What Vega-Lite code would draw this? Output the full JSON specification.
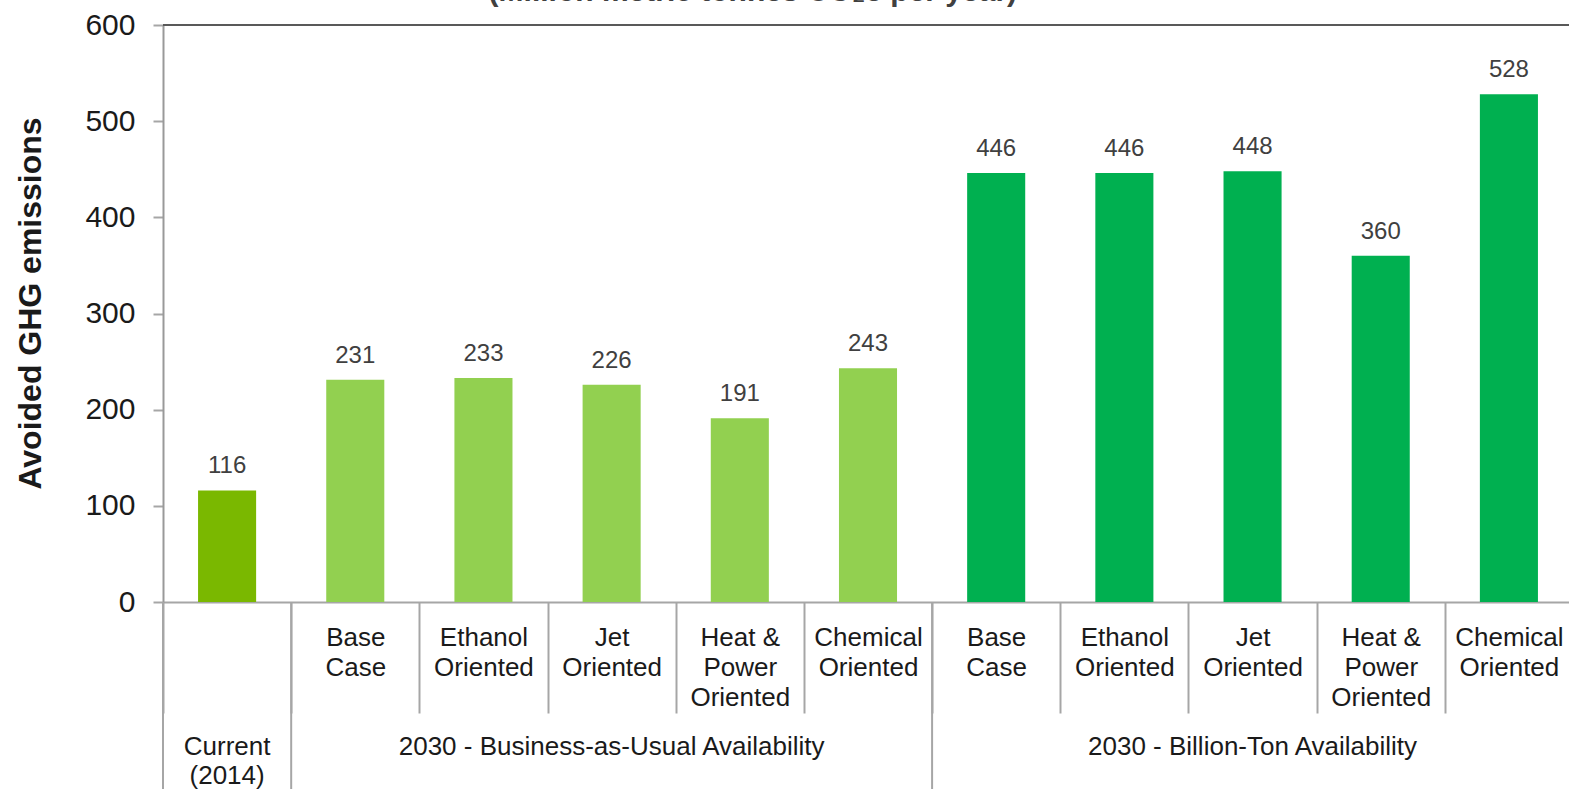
{
  "$schema": "https://vega.github.io/schema/vega-lite/v6.json",
  "autosize": {"type": "none"},
  "padding": {"left": 163, "top": 25, "right": 0, "bottom": 200},
  "width": 1410,
  "height": 577,
  "background": "white",
  "config": {"font": "Liberation Sans", "view": {"stroke": null}},
  "datasets": {
    "bars": [
      {"key": "CUR| ", "group": "Current", "value": 116},
      {"key": "BAU|Base|Case", "group": "Business-as-Usual", "value": 231},
      {"key": "BAU|Ethanol|Oriented", "group": "Business-as-Usual", "value": 233},
      {"key": "BAU|Jet|Oriented", "group": "Business-as-Usual", "value": 226},
      {"key": "BAU|Heat &|Power|Oriented", "group": "Business-as-Usual", "value": 191},
      {"key": "BAU|Chemical|Oriented", "group": "Business-as-Usual", "value": 243},
      {"key": "BT|Base|Case", "group": "Billion-Ton", "value": 446},
      {"key": "BT|Ethanol|Oriented", "group": "Billion-Ton", "value": 446},
      {"key": "BT|Jet|Oriented", "group": "Billion-Ton", "value": 448},
      {"key": "BT|Heat &|Power|Oriented", "group": "Billion-Ton", "value": 360},
      {"key": "BT|Chemical|Oriented", "group": "Billion-Ton", "value": 528}
    ],
    "groups": [
      {"key": "CUR| ", "text": "Current\n(2014)"},
      {"key": "BAU|Jet|Oriented", "text": "2030 - Business-as-Usual Availability"},
      {"key": "BT|Jet|Oriented", "text": "2030 - Billion-Ton Availability"}
    ],
    "separators": [
      {"key": "CUR| "},
      {"key": "BAU|Base|Case"},
      {"key": "BT|Base|Case"}
    ],
    "title": [
      {"key": "BAU|Heat &|Power|Oriented", "text": "(Million metric tonnes CO₂e per year)"}
    ]
  },
  "encoding": {
    "x": {
      "field": "key",
      "type": "nominal",
      "sort": null,
      "scale": {
        "type": "band",
        "domain": ["CUR| ", "BAU|Base|Case", "BAU|Ethanol|Oriented", "BAU|Jet|Oriented", "BAU|Heat &|Power|Oriented", "BAU|Chemical|Oriented", "BT|Base|Case", "BT|Ethanol|Oriented", "BT|Jet|Oriented", "BT|Heat &|Power|Oriented", "BT|Chemical|Oriented"],
        "paddingInner": 0,
        "paddingOuter": 0
      },
      "axis": {
        "title": null,
        "labelAngle": 0,
        "labelExpr": "slice(split(datum.label, '|'), 1)",
        "labelFontSize": 26,
        "labelLineHeight": 30,
        "labelColor": "#1a1a1a",
        "labelBaseline": "top",
        "labelPadding": -89,
        "labelOverlap": false,
        "labelBound": false,
        "labelFlush": false,
        "ticks": true,
        "tickBand": "extent",
        "tickSize": 111,
        "tickColor": "#a6a6a6",
        "tickWidth": 2,
        "domainColor": "#a6a6a6",
        "domainWidth": 2
      }
    }
  },
  "layer": [
    {
      "data": {"name": "bars"},
      "mark": {"type": "bar", "width": {"band": 0.453}},
      "encoding": {
        "y": {
          "field": "value",
          "type": "quantitative",
          "scale": {"domain": [0, 600], "nice": false},
          "axis": {
            "title": "Avoided GHG emissions",
            "titleFontSize": 32,
            "titleFontWeight": "bold",
            "titleColor": "#1a1a1a",
            "titlePadding": 37,
            "titleY": 278,
            "values": [0, 100, 200, 300, 400, 500, 600],
            "labelFontSize": 30,
            "labelColor": "#1a1a1a",
            "labelPadding": 18,
            "tickSize": 10,
            "tickColor": "#a6a6a6",
            "tickWidth": 2,
            "domainColor": "#999999",
            "domainWidth": 2,
            "grid": false
          }
        },
        "color": {
          "field": "group",
          "type": "nominal",
          "scale": {"domain": ["Current", "Business-as-Usual", "Billion-Ton"], "range": ["#7ab800", "#92d050", "#00b050"]},
          "legend": null
        }
      }
    },
    {
      "data": {"name": "bars"},
      "mark": {"type": "text", "baseline": "alphabetic", "dy": -17, "fontSize": 24, "color": "#404040"},
      "encoding": {
        "y": {"field": "value", "type": "quantitative"},
        "text": {"field": "value", "type": "quantitative"}
      }
    },
    {
      "data": {"name": "bars"},
      "mark": {"type": "rule", "color": "#595959", "strokeWidth": 2},
      "encoding": {"x": null, "y": {"datum": 600}}
    },
    {
      "data": {"name": "separators"},
      "mark": {"type": "rule", "color": "#a6a6a6", "strokeWidth": 2},
      "encoding": {
        "x": {"field": "key", "type": "nominal", "bandPosition": 0},
        "y": {"datum": 0},
        "y2": {"datum": -260}
      }
    },
    {
      "data": {"name": "groups"},
      "mark": {"type": "text", "baseline": "alphabetic", "fontSize": 26, "lineHeight": 29, "lineBreak": "\n", "color": "#1a1a1a"},
      "encoding": {
        "y": {"datum": -159},
        "text": {"field": "text", "type": "nominal"}
      }
    },
    {
      "data": {"name": "title"},
      "mark": {"type": "text", "baseline": "alphabetic", "fontSize": 30, "fontWeight": "bold", "color": "#404040", "dx": 13},
      "encoding": {
        "y": {"datum": 625},
        "text": {"field": "text", "type": "nominal"}
      }
    }
  ]
}
